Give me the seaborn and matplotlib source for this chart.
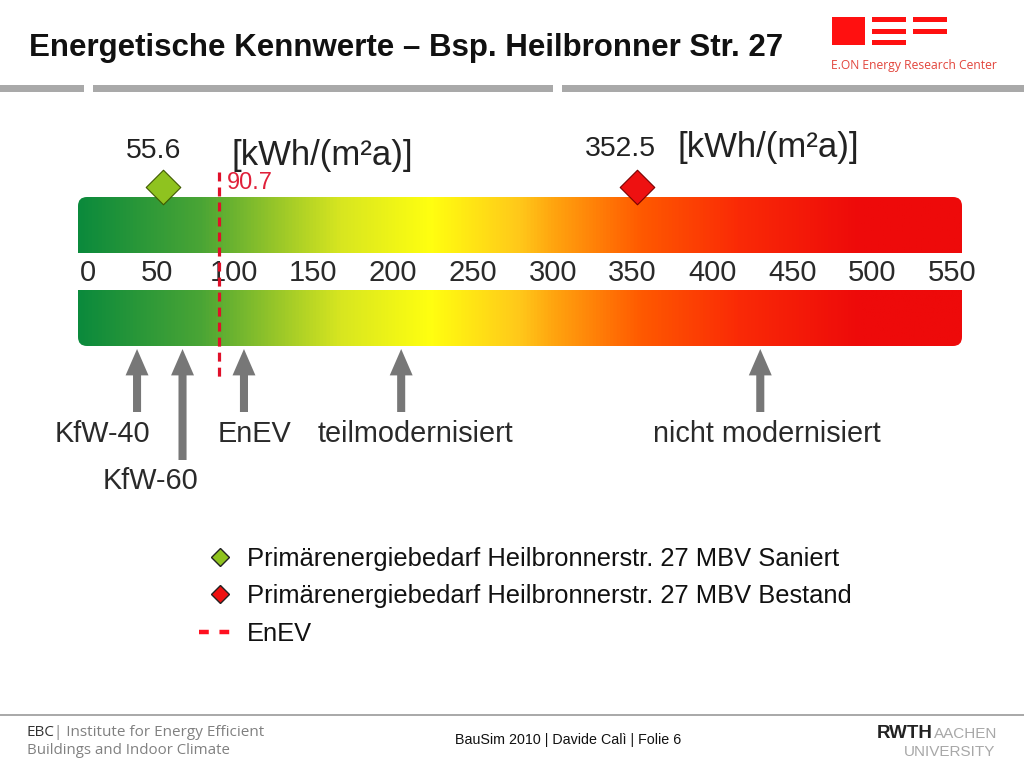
import matplotlib
matplotlib.use("Agg")
import matplotlib.pyplot as plt
import seaborn as sns
import numpy as np
from matplotlib.colors import LinearSegmentedColormap
from matplotlib.legend_handler import HandlerLine2D
from matplotlib.lines import Line2D
from matplotlib.patches import FancyBboxPatch, Rectangle

# werte aus dem bild
scale_ticks = [0, 50, 100, 150, 200, 250, 300, 350, 400, 450, 500, 550]
saniert_wert = 55.6
bestand_wert = 352.5
enev_wert = 90.7
arrow_names = ["KfW-40", "KfW-60", "EnEV", "teilmodernisiert", "nicht modernisiert"]
arrow_values = [39.5, 68, 106.5, 205, 430]
grad_values = [2.5, 79, 123, 167, 223, 279, 300, 355, 417, 492, 556]
grad_colors = ["#0b8a3c", "#4aa535", "#93c42a", "#d8e620", "#ffff10", "#ffc81a",
               "#ffa50f", "#ff5a00", "#fa2a06", "#ee0a0a", "#ee0a0a"]
legend_labels = ["Primärenergiebedarf Heilbronnerstr. 27 MBV Saniert",
                 "Primärenergiebedarf Heilbronnerstr. 27 MBV Bestand",
                 "EnEV"]

sns.set_theme(style="white")
plt.rcParams['font.family'] = ['Liberation Sans']

fig = plt.figure(figsize=(10.24, 7.68), dpi=100)

# folie in pixeln
slide = fig.add_axes([0, 0, 1, 1], zorder=1)
slide.set_xlim(0, 1024)
slide.set_ylim(768, 0)
slide.axis("off")

# skala: 55.6 -> 163px, 352.5 -> 637px
px_per_unit = 1.596
x0_px = 74
ax = fig.add_axes([0, 0, 1, 1], zorder=2)
ax.patch.set_alpha(0)

for x, w in [(0, 84), (93, 460), (562, 462)]:
    slide.add_patch(Rectangle((x, 85), w, 7, color="#a9a9a9", lw=0))
slide.text(29, 48, "Energetische Kennwerte – Bsp. Heilbronner Str. 27", fontsize=22.5,
           fontweight="bold", color="#111111", va="center")

# logo oben rechts
slide.add_patch(Rectangle((832, 17), 33, 28, color="#ff1010", lw=0))
for y in [17, 29, 40]:
    slide.add_patch(Rectangle((872, y), 34, 5, color="#ff1010", lw=0))
for y in [17, 29]:
    slide.add_patch(Rectangle((913, y), 34, 5, color="#ff1010", lw=0))
slide.text(831, 66, "E.ON Energy Research Center", fontsize=8.7, family="Open Sans",
           color="#e2453c", va="center")

# fusszeile
slide.add_patch(Rectangle((0, 714), 1024, 2, color="#aaaaaa", lw=0))
slide.text(27, 732, "EBC", fontsize=11, family="Open Sans", color="#333333", va="center")
slide.text(54, 732, "| Institute for Energy Efficient", fontsize=11, family="Open Sans",
           color="#808080", va="center")
slide.text(27, 751, "Buildings and Indoor Climate", fontsize=10.8, family="Open Sans",
           color="#808080", va="center")
slide.text(568, 740, "BauSim 2010 | Davide Calì | Folie 6", fontsize=10.3, color="#111111",
           ha="center", va="center")
slide.text(877, 734, "RWTH", fontsize=13.5, fontweight="bold", color="#222222", va="center")
slide.text(934, 734, "AACHEN", fontsize=11, color="#a8a8a8", va="center")
slide.text(995, 752, "UNIVERSITY", fontsize=11, color="#a8a8a8", va="center", ha="right")

# farbbalken
positions = (np.array(grad_values) - grad_values[0]) / (grad_values[-1] - grad_values[0])
cmap = LinearSegmentedColormap.from_list("enev", list(zip(positions, grad_colors)))
box = FancyBboxPatch((78, 197), 884, 149, boxstyle="round,pad=0,rounding_size=9",
                     facecolor="none", edgecolor="none")
slide.add_patch(box)
im = ax.imshow(np.linspace(0, 1, 512).reshape(1, -1), cmap=cmap, aspect="auto",
               extent=(grad_values[0], grad_values[-1], 346, 197), zorder=1)
im.set_clip_path(box)
ax.add_patch(Rectangle((-10, 253), 580, 37, color="white", lw=0, zorder=2))

ax.set_xlim(-x0_px / px_per_unit, (1024 - x0_px) / px_per_unit)
ax.set_ylim(768, 0)
ax.axis("off")

for t in scale_ticks:
    # 0 und 50 sitzen im original etwas rechts
    shift = {0: 10, 50: 2}.get(t, 0)
    ax.annotate(str(t), (t, 273), xytext=(shift, 0), textcoords="offset points",
                fontsize=21, color="#2a2a2a", ha="center", va="center", zorder=3)

# estimator=None, sonst mittelt seaborn die beiden y-werte
sns.lineplot(x=[enev_wert, enev_wert], y=[172, 380], ax=ax, color="#e0102a", linewidth=2.3,
             estimator=None, sort=False, zorder=4, legend=False)
ax.lines[-1].set_linestyle((0, (2.8, 1.9)))
sns.scatterplot(x=[saniert_wert], y=[187], ax=ax, marker="D", s=310, color="#8fc31f",
                edgecolor="#3f5a00", linewidth=0.8, zorder=5, legend=False)
sns.scatterplot(x=[bestand_wert], y=[187], ax=ax, marker="D", s=310, color="#ee1111",
                edgecolor="#7a0000", linewidth=0.8, zorder=5, legend=False)

ax.text(saniert_wert - 5.5, 151, "55.6", fontsize=20.4, color="#222222", ha="center", va="center")
ax.text(bestand_wert - 10, 149, "352.5", fontsize=20.4, color="#222222", ha="center", va="center")
ax.text(enev_wert + 5, 183, "90.7", fontsize=17, color="#e0203a", va="center")
slide.text(231, 155, "[kWh/(m²a)]", fontsize=25, color="#222222", va="center")
slide.text(677, 147, "[kWh/(m²a)]", fontsize=25, color="#222222", va="center")

# pfeile
for name, val in zip(arrow_names, arrow_values):
    tail = 460 if name == "KfW-60" else 412
    ax.annotate("", xy=(val, 349), xytext=(val, tail),
                arrowprops=dict(width=5.8, headwidth=16.5, headlength=19, shrink=0,
                                color="#777777", lw=0), zorder=3)

label_pos = {"KfW-40": (18, 434), "KfW-60": (48, 481), "EnEV": (113, 434),
             "teilmodernisiert": (214, 434), "nicht modernisiert": (434, 434)}
for name in arrow_names:
    lx, ly = label_pos[name]
    ax.text(lx, ly, name, fontsize=20.8, color="#2a2a2a", ha="center", va="center", zorder=3)

handles = [
    Line2D([], [], ls="none", marker="D", ms=9, mfc="#8fc31f", mec="#222222", mew=1),
    Line2D([], [], ls="none", marker="D", ms=9, mfc="#ee1111", mec="#222222", mew=1),
    Line2D([], [], color="#ff1020", lw=3.2, dashes=(2.2, 2.4)),
]
shifted = HandlerLine2D(xpad=0.35)
leg = ax.legend(handles, legend_labels, loc="upper left", bbox_to_anchor=(199 / 1024, 1 - 547 / 768),
                bbox_transform=fig.transFigure, frameon=False, fontsize=18.4, handlelength=1.29,
                handletextpad=0.59, labelspacing=0.52, borderpad=0, borderaxespad=0,
                labelcolor="#111111", handler_map={handles[0]: shifted, handles[1]: shifted})

fig.savefig("out.png", dpi=100)
